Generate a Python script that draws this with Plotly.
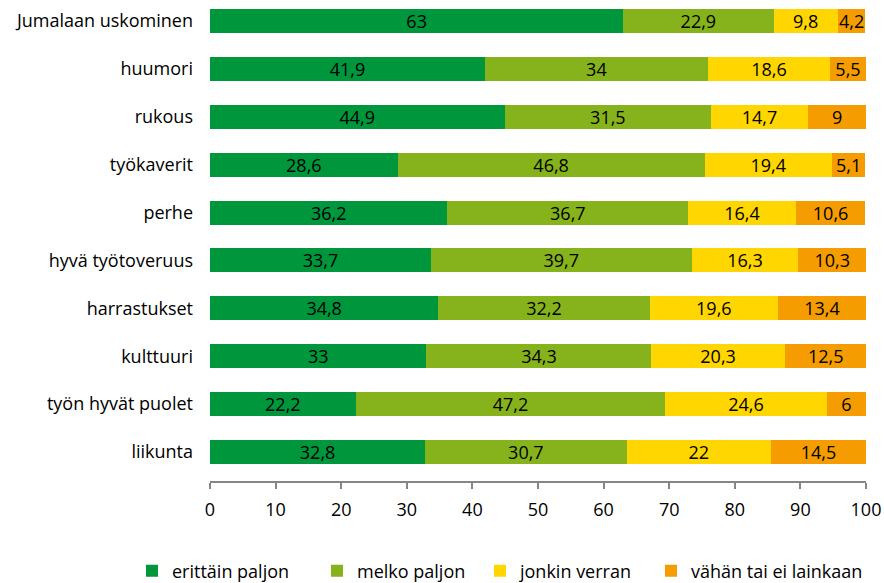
import plotly.graph_objects as go

# Survey items (top to bottom) and the share of each answer, in percent
categories = [
    "Jumalaan uskominen", "huumori", "rukous", "työkaverit", "perhe",
    "hyvä työtoveruus", "harrastukset", "kulttuuri", "työn hyvät puolet", "liikunta",
]
series_names = ["erittäin paljon", "melko paljon", "jonkin verran", "vähän tai ei lainkaan"]
erittain_paljon = [63, 41.9, 44.9, 28.6, 36.2, 33.7, 34.8, 33, 22.2, 32.8]
melko_paljon = [22.9, 34, 31.5, 46.8, 36.7, 39.7, 32.2, 34.3, 47.2, 30.7]
jonkin_verran = [9.8, 18.6, 14.7, 19.4, 16.4, 16.3, 19.6, 20.3, 24.6, 22]
vahan_tai_ei = [4.2, 5.5, 9, 5.1, 10.6, 10.3, 13.4, 12.5, 6, 14.5]
x_ticks = [0, 10, 20, 30, 40, 50, 60, 70, 80, 90, 100]

series_values = [erittain_paljon, melko_paljon, jonkin_verran, vahan_tai_ei]
colors = ["#00963C", "#86B31C", "#FFD600", "#F59D00"]

FONT = "Open Sans"
FS = 18
PLOT_LEFT, PLOT_W = 210, 656
# left edge (px) of each legend entry along the bottom row
legend_left_px = [132, 317, 480, 651]
legend_ids = ["legend", "legend2", "legend3", "legend4"]

fig = go.Figure()
for name, vals, col, lid in zip(series_names, series_values, colors, legend_ids):
    fig.add_trace(go.Bar(
        y=categories, x=vals, name=name, orientation="h",
        marker=dict(color=col, line=dict(width=0)),
        texttemplate="%{x}", textposition="inside", insidetextanchor="middle",
        textangle=0, constraintext="none",
        textfont=dict(family=FONT, size=FS, color="#000000"),
        hoverinfo="skip", legend=lid,
    ))

legends = {}
for lid, px in zip(legend_ids, legend_left_px):
    legends[lid] = dict(
        orientation="h", x=(px - PLOT_LEFT) / PLOT_W, xanchor="left",
        y=-0.187, yanchor="middle",
        font=dict(family=FONT, size=FS, color="#000000"),
        itemwidth=30, itemclick=False, itemdoubleclick=False,
        bgcolor="rgba(0,0,0,0)",
    )

fig.update_layout(
    barmode="stack", bargap=0.5,
    width=884, height=583,
    margin=dict(l=PLOT_LEFT, r=18, t=0, b=102, autoexpand=False),
    paper_bgcolor="white", plot_bgcolor="white",
    separators=", ",
    font=dict(family=FONT, size=FS, color="#000000"),
    showlegend=True,
    xaxis=dict(
        range=[0, 100], tickvals=x_ticks, showgrid=False, zeroline=False,
        showline=True, linecolor="#868686", linewidth=2,
        ticks="outside", ticklen=6, tickwidth=2, tickcolor="#868686",
        ticklabelstandoff=5, tickfont=dict(family=FONT, size=FS),
        fixedrange=True, automargin=False,
    ),
    yaxis=dict(
        categoryorder="array", categoryarray=categories,
        range=[9.605, -0.438], showgrid=False, zeroline=False, showline=False,
        ticks="", ticklabelstandoff=16, tickfont=dict(family=FONT, size=FS),
        fixedrange=True, automargin=False,
    ),
    **legends,
)

fig.write_html("out.html")
